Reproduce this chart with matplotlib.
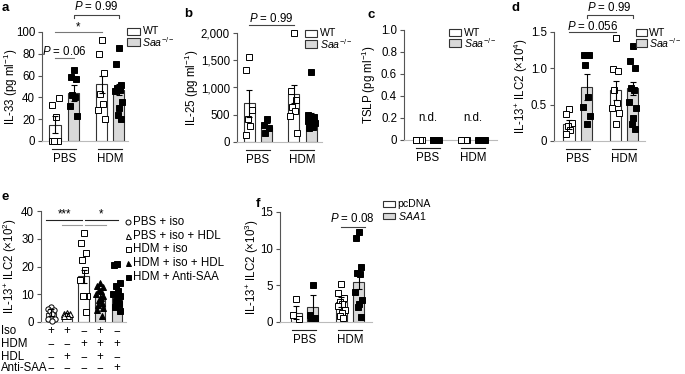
import matplotlib
matplotlib.use("Agg")
import matplotlib.pyplot as plt
from matplotlib.patches import Rectangle
from matplotlib.ticker import FuncFormatter
import numpy as np

plt.rcParams['font.family'] = ['Liberation Sans', 'DejaVu Sans']
plt.rcParams['mathtext.fontset'] = 'custom'
plt.rcParams['mathtext.rm'] = 'Liberation Sans'
plt.rcParams['mathtext.it'] = 'Liberation Sans:italic'
plt.rcParams['font.size'] = 8

FS = 8.3      # general text
FT = 8.3      # tick labels
FL = 7.6      # legend text

# ---------------- data ----------------
groups = ["PBS", "HDM"]

# panel a (IL-33)
a_wt_mean = [15, 52]
a_wt_sem = [8, 8]
a_saa_mean = [44, 47]
a_saa_sem = [7, 5]
a_wt_pts = [[0, 0, 0, 0, 22, 33, 39], [93, 80, 62, 43, 34, 28, 20]]
a_saa_pts = [[65, 59, 57, 42, 40, 32, 23], [85, 71, 51, 49, 47, 46, 36, 30, 24, 20]]

# panel b (IL-25)
b_wt_mean = [710, 880]
b_wt_sem = [250, 160]
b_saa_mean = [280, 440]
b_saa_sem = [60, 100]
b_wt_pts = [[1560, 1320, 580, 430, 300, 130], [2000, 940, 770, 640, 570, 480, 160]]
b_saa_pts = [[420, 320, 260, 170], [1290, 500, 460, 430, 400, 380, 350, 320, 300, 280, 260]]

# panel c (TSLP) - not detected
c_wt_mean = [0, 0]
c_saa_mean = [0, 0]
c_wt_pts = [[0, 0, 0, 0, 0, 0], [0, 0, 0, 0, 0, 0]]
c_saa_pts = [[0, 0, 0, 0, 0, 0], [0, 0, 0, 0, 0, 0, 0]]

# panel d (IL-13+ ILC2 x10^4)
d_wt_mean = [0.23, 0.70]
d_wt_sem = [0.065, 0.13]
d_saa_mean = [0.74, 0.725]
d_saa_sem = [0.18, 0.09]
d_wt_pts = [[0.44, 0.37, 0.25, 0.20, 0.15, 0.10], [1.42, 0.99, 0.96, 0.70, 0.52, 0.45, 0.39, 0.24]]
d_saa_pts = [[1.18, 1.18, 1.18, 1.04, 0.60, 0.47, 0.35, 0.23],
             [1.31, 1.10, 1.00, 0.73, 0.70, 0.54, 0.45, 0.31, 0.24, 0.17]]

# panel e (IL-13+ ILC2 x10^2)
e_labels = ["PBS + iso", "PBS + iso + HDL", "HDM + iso", "HDM + iso + HDL", "HDM + Anti-SAA"]
e_mean = [3.3, 2.7, 16.4, 9.0, 10.0]
e_sem = [1.3, 0.6, 2.5, 1.6, 2.4]
e_pts = [[5.5, 4.8, 4.5, 3.8, 3.0, 1.2, 1.0, 0.5],
         [3.3, 3.0, 2.8, 2.5, 2.2, 2.0],
         [32.2, 28.3, 24.7, 22.5, 18.7, 15.3, 9.3, 9.3, 9.3, 3.6],
         [14, 13, 12.5, 11.5, 11, 10, 9.5, 8.5, 8, 7, 6, 5, 4.5, 2],
         [21, 20.5, 14, 13, 11, 10, 9.5, 8.5, 7.5, 6.5, 5.5, 4]]
e_rows = ["Iso", "HDM", "HDL", "Anti-SAA"]
e_signs = [["+", "+", "\u2212", "+", "\u2212"],
           ["\u2212", "\u2212", "+", "+", "+"],
           ["\u2212", "+", "\u2212", "+", "\u2212"],
           ["\u2212", "\u2212", "\u2212", "\u2212", "+"]]

# panel f (IL-13+ ILC2 x10^3)
f_pc_mean = [1.27, 2.7]
f_pc_sem = [0.85, 0.7]
f_saa_mean = [2.05, 5.45]
f_saa_sem = [1.65, 1.0]
f_pc_pts = [[3.1, 0.9, 0.4], [5.2, 4.0, 3.3, 2.7, 2.5, 2.2, 1.7, 1.2, 0.8, 0.5]]
f_saa_pts = [[5.1, 0.9, 0.6, 0.5], [12.3, 11.4, 7.5, 6.7, 6.5, 4.1, 3.0, 2.5, 2.1, 0.7]]

# ---------------- layout helpers ----------------
W, H = 685, 374
fig = plt.figure(figsize=(W / 100, H / 100), dpi=100)

GRAY = '#d9d9d9'
EDGE = '#333333'
SPINE = '#555555'


def make_ax(l, t, r, b, ymax):
    ax = fig.add_axes([l / W, 1 - b / H, (r - l) / W, (b - t) / H])
    ax.set_xlim(0, r - l)
    ax.set_ylim(0, ymax)
    for s in ['top', 'right']:
        ax.spines[s].set_visible(False)
    ax.spines['left'].set_color(SPINE)
    ax.spines['left'].set_linewidth(0.8)
    ax.spines['bottom'].set_color('#bbbbbb')
    ax.spines['bottom'].set_linewidth(0.8)
    ax.tick_params(axis='x', bottom=False, labelbottom=False)
    ax.tick_params(axis='y', direction='out', length=3, width=0.8, color=SPINE, pad=2, labelsize=FT)
    ax.patch.set_alpha(0)
    return ax


OFFS = [0, -2.8, 2.8, -1.2, 1.2, -3.5, 3.5, 0.6, -0.6, 2.0, -2.0, 3.2, -3.2, 1.6, -1.6]


def points(ax, xc, vals, marker='s', filled=False, ms=3.8):
    xs = [xc + OFFS[i % len(OFFS)] for i in range(len(vals))]
    ax.plot(xs, vals, linestyle='none', marker=marker, ms=ms, mew=0.7,
            mec='black', mfc='black' if filled else 'white', zorder=5, clip_on=False)


def bar(ax, xc, h, err, fc, w=11.5):
    ax.bar([xc], [h], width=w, color=fc, edgecolor=EDGE, linewidth=0.8, zorder=2)
    if err is not None:
        ax.errorbar([xc], [h], yerr=[err], fmt='none', ecolor='black', elinewidth=0.8,
                    capsize=2.2, capthick=0.8, zorder=6)


def group_labels(ax, centers, below_line=8, below_text=18):
    trans = ax.get_xaxis_transform()
    hpx = ax.get_position().height * H
    for c, g in zip(centers, groups):
        yl = -below_line / hpx
        ax.plot([c - 12, c + 12], [yl, yl], color='#222222', lw=0.8, transform=trans, clip_on=False)
        ax.text(c, -below_text / hpx, g, transform=trans, ha='center', va='center', fontsize=FS)


def two_group_panel(ax, rel, wt_mean, wt_sem, saa_mean, saa_sem, wt_pts, saa_pts, w=11.5):
    for i in range(2):
        bar(ax, rel[2 * i], wt_mean[i], None if wt_sem is None else wt_sem[i], 'white', w)
        bar(ax, rel[2 * i + 1], saa_mean[i], None if saa_sem is None else saa_sem[i], GRAY, w)
        points(ax, rel[2 * i], wt_pts[i], 's', False)
        points(ax, rel[2 * i + 1], saa_pts[i], 's', True)
    group_labels(ax, [(rel[0] + rel[1]) / 2, (rel[2] + rel[3]) / 2])


def line(ax, x0, x1, y, color='#444444', ticks=None):
    if ticks is None:
        ax.plot([x0, x1], [y, y], color=color, lw=0.8, clip_on=False, zorder=7)
    else:
        ax.plot([x0, x0, x1, x1], [y - ticks, y, y, y - ticks], color=color, lw=0.8, clip_on=False, zorder=7)


def ptext(ax, x, y, s):
    ax.text(x, y, s, ha='center', va='center', fontsize=FS, clip_on=False)


def legend_boxes(x, ys, labels, w=13, h=7.5, gap=2.5):
    for y, lab, fc in zip(ys, labels, ['white', GRAY]):
        fig.add_artist(Rectangle((x / W, 1 - (y + h / 2) / H), w / W, h / H, transform=fig.transFigure,
                                 facecolor=fc, edgecolor=EDGE, linewidth=0.8))
        fig.text((x + w + gap) / W, 1 - y / H, lab, ha='left', va='center', fontsize=FL)


def letter(x, y, s):
    fig.text(x / W, 1 - y / H, s, fontsize=9.5, fontweight='bold', ha='left', va='center')


def ylab(ax, s, xpx):
    pos = ax.get_position()
    yc = pos.y0 + pos.height / 2
    fig.text(xpx / W, yc, s, rotation=90, ha='center', va='center', fontsize=FS)


# ---------------- panel a ----------------
axa = make_ax(42, 32, 128, 141, 100)
rel_a = [13, 31.5, 59.5, 76.5]
two_group_panel(axa, rel_a, a_wt_mean, a_wt_sem, a_saa_mean, a_saa_sem, a_wt_pts, a_saa_pts)
axa.set_yticks([0, 20, 40, 60, 80, 100])
ylab(axa, "IL-33 (pg ml$^{-1}$)", 11)
line(axa, rel_a[0], rel_a[2], 100, color='#777777')
ptext(axa, (rel_a[0] + rel_a[2]) / 2, 104.5, "*")
line(axa, rel_a[0], rel_a[1], 76, color='#777777')
ptext(axa, (rel_a[0] + rel_a[1]) / 2, 82.5, "$P$ = 0.06")
line(axa, rel_a[1], rel_a[3], 115.5, ticks=3)
ptext(axa, (rel_a[1] + rel_a[3]) / 2, 123, "$P$ = 0.99")
legend_boxes(127, [31.5, 42], ["WT", "$Saa^{-/-}$"])
letter(2, 8, "a")

# ---------------- panel b ----------------
axb = make_ax(237, 33, 322, 142, 2000)
rel_b = [12, 29.5, 56.5, 74]
two_group_panel(axb, rel_b, b_wt_mean, b_wt_sem, b_saa_mean, b_saa_sem, b_wt_pts, b_saa_pts, w=11)
axb.set_yticks([0, 500, 1000, 1500, 2000])
axb.yaxis.set_major_formatter(FuncFormatter(lambda v, p: f"{int(v):,}"))
ylab(axb, "IL-25 (pg ml$^{-1}$)", 192)
line(axb, rel_b[0], rel_b[2], 2140)
ptext(axb, (rel_b[0] + rel_b[2]) / 2, 2260, "$P$ = 0.99")
legend_boxes(305, [33.5, 44], ["WT", "$Saa^{-/-}$"], w=12)
letter(184, 14, "b")

# ---------------- panel c ----------------
axc = make_ax(404, 30, 497, 140, 1.0)
rel_c = [15, 32, 60.5, 77.5]
two_group_panel(axc, rel_c, c_wt_mean, None, c_saa_mean, None, c_wt_pts, c_saa_pts, w=12)
axc.set_yticks([0, 0.2, 0.4, 0.6, 0.8, 1.0])
axc.yaxis.set_major_formatter(FuncFormatter(lambda v, p: "0" if v == 0 else f"{v:.1f}"))
ylab(axc, "TSLP (pg ml$^{-1}$)", 369)
for k in range(2):
    ptext(axc, (rel_c[2 * k] + rel_c[2 * k + 1]) / 2, 0.2, "n.d.")
legend_boxes(449, [32.5, 43], ["WT", "$Saa^{-/-}$"], w=12)
letter(367, 15, "c")

# ---------------- panel d ----------------
axd = make_ax(554, 32, 645, 141, 1.5)
rel_d = [15, 32.5, 61.5, 78.5]
two_group_panel(axd, rel_d, d_wt_mean, d_wt_sem, d_saa_mean, d_saa_sem, d_wt_pts, d_saa_pts)
axd.set_yticks([0, 0.5, 1.0, 1.5])
axd.yaxis.set_major_formatter(FuncFormatter(lambda v, p: "0" if v == 0 else f"{v:.1f}"))
ylab(axd, "IL-13$^{+}$ ILC2 (\u00d710$^{4}$)", 521)
line(axd, rel_d[0], rel_d[2], 1.5)
ptext(axd, (rel_d[0] + rel_d[2]) / 2, 1.58, "$P$ = 0.056")
line(axd, rel_d[1], rel_d[3], 1.735, ticks=0.04)
ptext(axd, (rel_d[1] + rel_d[3]) / 2, 1.835, "$P$ = 0.99")
legend_boxes(636, [32.5, 43], ["WT", "$Saa^{-/-}$"], w=11, gap=2)
letter(512, 8, "d")

# ---------------- panel e ----------------
axe = make_ax(41, 211, 126, 322, 40)
rel_e = [10, 26, 42.5, 59, 76]
e_fill = ['white', 'white', 'white', GRAY, GRAY]
e_mark = [('o', False), ('^', False), ('s', False), ('^', True), ('s', True)]
for i in range(5):
    bar(axe, rel_e[i], e_mean[i], e_sem[i], e_fill[i], w=10.5)
    points(axe, rel_e[i], e_pts[i], e_mark[i][0], e_mark[i][1], ms=3.8)
axe.set_yticks([0, 10, 20, 30, 40])
ylab(axe, "IL-13$^{+}$ ILC2 (\u00d710$^{2}$)", 10)
line(axe, rel_e[0] - 5, rel_e[2] - 2, 36.8, color='#222222')
ptext(axe, (rel_e[0] + rel_e[2]) / 2 - 3, 38.8, "***")
line(axe, rel_e[1] - 5, rel_e[2] - 2, 34.8, color='#999999')
line(axe, rel_e[2] + 1, rel_e[4] + 1, 36.8, color='#222222')
ptext(axe, (rel_e[2] + rel_e[4]) / 2 + 1, 38.8, "*")
line(axe, rel_e[2] + 1, rel_e[3] + 6, 34.8, color='#999999')
row_y = [331, 344, 357, 368]
hpx_e = 111
for r, (lab, signs) in enumerate(zip(e_rows, e_signs)):
    yy = -(row_y[r] - 322) / hpx_e
    fig.text(1 / W, 1 - row_y[r] / H, lab, ha='left', va='center', fontsize=FS)
    for i, s in enumerate(signs):
        axe.text(rel_e[i], yy, s, transform=axe.get_xaxis_transform(), ha='center', va='center',
                 fontsize=FS, clip_on=False)
leg_y = [222, 236, 249, 263, 277]
for (m, filled), lab, y in zip(e_mark, e_labels, leg_y):
    fig.lines.append(plt.Line2D([128 / W], [1 - y / H], marker=m, ms=3.6, mew=0.7, mec='black',
                                mfc='black' if filled else 'white', linestyle='none',
                                transform=fig.transFigure))
    fig.text(133 / W, 1 - y / H, lab, ha='left', va='center', fontsize=FS)
letter(2, 197, "e")

# ---------------- panel f ----------------
axf = make_ax(280, 212, 372, 322, 15)
rel_f = [16, 32.5, 61, 78.5]
two_group_panel(axf, rel_f, f_pc_mean, f_pc_sem, f_saa_mean, f_saa_sem, f_pc_pts, f_saa_pts, w=11)
axf.set_yticks([0, 5, 10, 15])
ylab(axf, "IL-13$^{+}$ ILC2 (\u00d710$^{3}$)", 252)
line(axf, rel_f[2], rel_f[3] + 6, 12.95)
ptext(axf, (rel_f[2] + rel_f[3]) / 2 + 3, 14.1, "$P$ = 0.08")
legend_boxes(383, [204, 216], ["pcDNA", "$SAA1$"], w=12, h=5.5)
letter(256, 204, "f")

fig.savefig("out.png", dpi=100)
